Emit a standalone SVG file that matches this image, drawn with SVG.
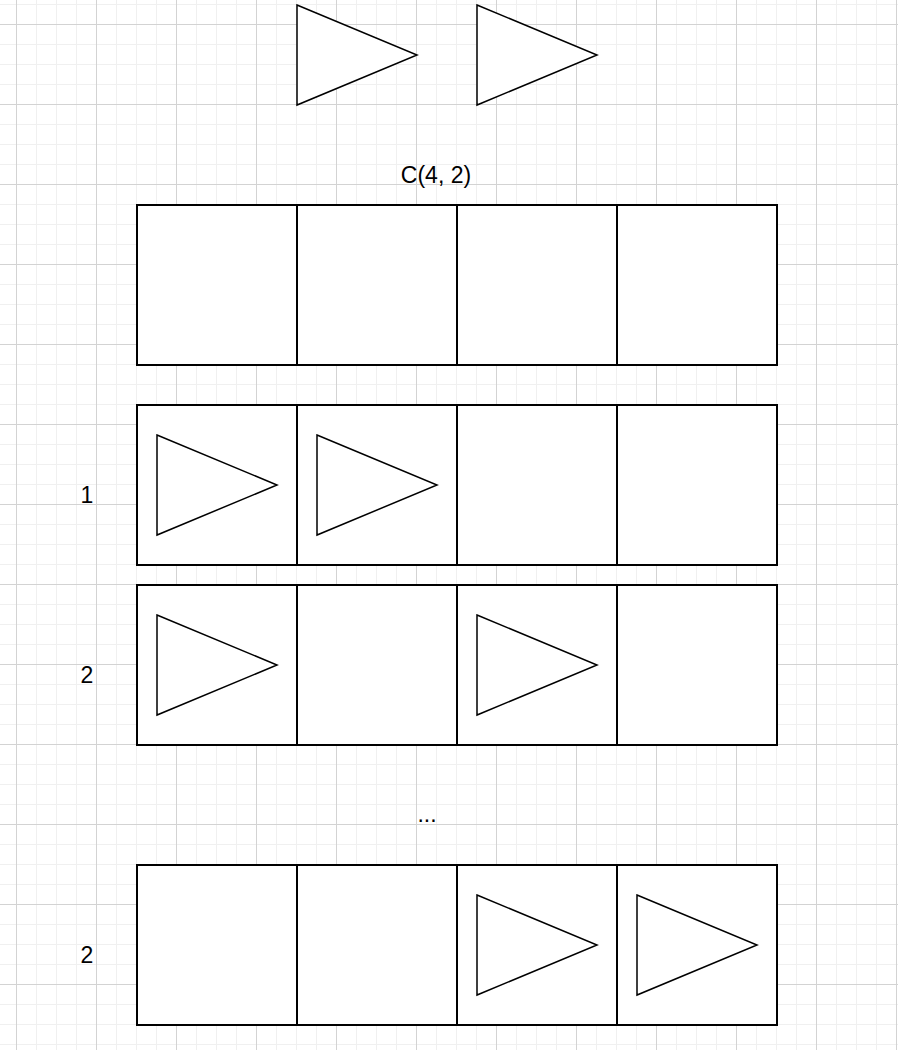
<svg xmlns="http://www.w3.org/2000/svg" width="898" height="1050" viewBox="0 0 898 1050">
<defs>
<pattern id="grid" patternUnits="userSpaceOnUse" x="16" y="24" width="80" height="80">
<rect x="0" y="0" width="80" height="80" fill="#ffffff"/>
<rect x="20" y="0" width="1" height="80" fill="#f0f0f0"/>
<rect x="40" y="0" width="1" height="80" fill="#f0f0f0"/>
<rect x="60" y="0" width="1" height="80" fill="#f0f0f0"/>
<rect x="0" y="20" width="80" height="1" fill="#f0f0f0"/>
<rect x="0" y="40" width="80" height="1" fill="#f0f0f0"/>
<rect x="0" y="60" width="80" height="1" fill="#f0f0f0"/>
<rect x="0" y="0" width="1" height="80" fill="#d3d3d3"/>
<rect x="0" y="0" width="80" height="1" fill="#d3d3d3"/>
</pattern>
</defs>
<style>
.cell{fill:#ffffff;stroke:#000000;stroke-width:2}
.tri{fill:#ffffff;stroke:#000000;stroke-width:1.5;stroke-linejoin:miter}
.lbl{font-family:"Liberation Sans",Arial,sans-serif;font-size:23px;fill:#000000}
</style>
<rect x="0" y="0" width="898" height="1050" fill="url(#grid)"/>
<g id="item-a"><polygon class="tri" points="297,5 417,55 297,105"/></g>
<g id="item-b"><polygon class="tri" points="477,5 597,55 477,105"/></g>
<g id="title"><text class="lbl" x="436" y="183" text-anchor="middle">C(4, 2)</text></g>
<g id="row0">
<rect class="cell" x="137" y="205" width="160" height="160"/>
<rect class="cell" x="297" y="205" width="160" height="160"/>
<rect class="cell" x="457" y="205" width="160" height="160"/>
<rect class="cell" x="617" y="205" width="160" height="160"/>
</g>
<g id="row1">
<rect class="cell" x="137" y="405" width="160" height="160"/>
<rect class="cell" x="297" y="405" width="160" height="160"/>
<rect class="cell" x="457" y="405" width="160" height="160"/>
<rect class="cell" x="617" y="405" width="160" height="160"/>
<polygon class="tri" points="157,435 277,485 157,535"/>
<polygon class="tri" points="317,435 437,485 317,535"/>
<text class="lbl" x="87" y="503" text-anchor="middle">1</text>
</g>
<g id="row2">
<rect class="cell" x="137" y="585" width="160" height="160"/>
<rect class="cell" x="297" y="585" width="160" height="160"/>
<rect class="cell" x="457" y="585" width="160" height="160"/>
<rect class="cell" x="617" y="585" width="160" height="160"/>
<polygon class="tri" points="157,615 277,665 157,715"/>
<polygon class="tri" points="477,615 597,665 477,715"/>
<text class="lbl" x="87" y="683" text-anchor="middle">2</text>
</g>
<g id="ellipsis"><text class="lbl" x="427" y="822" text-anchor="middle">...</text></g>
<g id="row3">
<rect class="cell" x="137" y="865" width="160" height="160"/>
<rect class="cell" x="297" y="865" width="160" height="160"/>
<rect class="cell" x="457" y="865" width="160" height="160"/>
<rect class="cell" x="617" y="865" width="160" height="160"/>
<polygon class="tri" points="477,895 597,945 477,995"/>
<polygon class="tri" points="637,895 757,945 637,995"/>
<text class="lbl" x="87" y="963" text-anchor="middle">2</text>
</g>
<g id="connectors"></g>
</svg>
